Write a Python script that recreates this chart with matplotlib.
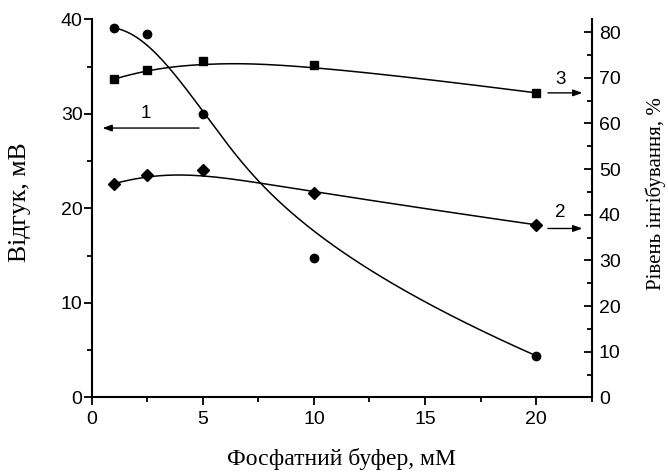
import numpy as np
import matplotlib
matplotlib.use("Agg")
import matplotlib.pyplot as plt
from matplotlib.ticker import MultipleLocator

# phosphate buffer concentration, mM
buffer_mm = [1, 2.5, 5, 10, 20]
# 1 - response, mV (left axis)
response_mv = [39.1, 38.5, 30.0, 14.8, 4.4]
# 2 and 3 - inhibition level, % (right axis)
inhib_2 = [46.8, 48.7, 49.7, 44.8, 37.8]
inhib_3 = [69.7, 71.8, 73.7, 72.9, 66.7]


def bspline(px, py, n=400, k=3):
    # clamped B-spline using the data points as control points
    px = np.asarray(px, float)
    py = np.asarray(py, float)
    m = len(px)
    knots = np.r_[[0.0] * (k + 1), np.arange(1, m - k), [float(m - k)] * (k + 1)]
    t = np.linspace(0, m - k, n)
    N = np.zeros((n, len(knots) - 1))
    for i in range(len(knots) - 1):
        N[:, i] = (knots[i] <= t) & (t < knots[i + 1])
    last = np.nonzero(knots[:-1] < knots[1:])[0][-1]
    N[t == knots[-1], last] = 1
    for d in range(1, k + 1):
        new = np.zeros((n, len(knots) - 1 - d))
        for i in range(len(knots) - 1 - d):
            a = knots[i + d] - knots[i]
            b = knots[i + d + 1] - knots[i + 1]
            if a > 0:
                new[:, i] += (t - knots[i]) / a * N[:, i]
            if b > 0:
                new[:, i] += (knots[i + d + 1] - t) / b * N[:, i + 1]
        N = new
    return N @ px, N @ py


fig = plt.figure(figsize=(6.68, 4.72), dpi=100)
ax = fig.add_axes([0.137, 0.158, 0.749, 0.801])
ax2 = ax.twinx()

lw = 1.1
ax.plot(*bspline(buffer_mm, response_mv), color="black", lw=lw)
ax.plot(buffer_mm, response_mv, "o", color="black", ms=6)

ax2.plot(*bspline(buffer_mm, inhib_3), color="black", lw=lw)
ax2.plot(buffer_mm, inhib_3, "s", color="black", ms=6)
ax2.plot(*bspline(buffer_mm, inhib_2), color="black", lw=lw)
ax2.plot(buffer_mm, inhib_2, "D", color="black", ms=5.8)

ax.set_xlim(0, 22.5)
ax.set_ylim(0, 40)
ax2.set_ylim(0, 82.8)

ax.xaxis.set_major_locator(MultipleLocator(5))
ax.xaxis.set_minor_locator(MultipleLocator(2.5))
ax.yaxis.set_major_locator(MultipleLocator(10))
ax.yaxis.set_minor_locator(MultipleLocator(5))
ax2.yaxis.set_major_locator(MultipleLocator(10))
ax2.yaxis.set_minor_locator(MultipleLocator(5))

for a in (ax, ax2):
    a.spines["top"].set_visible(False)
    for sp in a.spines.values():
        sp.set_linewidth(1.5)
ax.spines["right"].set_visible(False)
ax2.spines["left"].set_visible(False)
ax2.spines["bottom"].set_visible(False)

ax.tick_params(axis="x", which="major", direction="out", length=6, width=1.3, pad=4)
ax.tick_params(axis="y", which="major", direction="out", length=6, width=1.3, pad=0.5)
ax.tick_params(axis="both", which="minor", direction="out", length=3.3, width=1.3)
ax2.tick_params(axis="y", which="major", direction="in", length=6, width=1.3, pad=5)
ax2.tick_params(axis="y", which="minor", direction="in", length=3.3, width=1.3)
for lab in ax.get_xticklabels() + ax.get_yticklabels() + ax2.get_yticklabels():
    lab.set_fontfamily("Liberation Sans")
    lab.set_fontsize(14)

ax.set_xlabel("Фосфатний буфер, мМ", family="Liberation Serif", size=17, va="center")
ax.xaxis.set_label_coords(0.5, -0.163)
ax.set_ylabel("Відгук, мВ", family="Liberation Serif", size=18.5, va="center", ha="center")
ax.yaxis.set_label_coords(-0.1434, 0.516)
ax2.set_ylabel("Рівень інгібування, %", family="Liberation Serif", size=15, va="center", ha="center")
ax2.yaxis.set_label_coords(1.1286, 0.54)

arrow = dict(arrowstyle="-|>,head_length=0.55,head_width=0.2", color="black", lw=1.0)
num_font = dict(fontfamily="Liberation Sans", fontsize=13.5, ha="center", va="center")
ax.annotate("", xy=(0.37, 28.5), xytext=(4.96, 28.5), arrowprops=arrow)
ax.text(2.45, 30.0, "1", **num_font)
ax2.annotate("", xy=(22.2, 66.7), xytext=(20.4, 66.7), arrowprops=arrow)
ax2.text(21.1, 69.6, "3", **num_font)
ax2.annotate("", xy=(22.2, 37.0), xytext=(20.4, 37.0), arrowprops=arrow)
ax2.text(21.1, 40.4, "2", **num_font)

fig.savefig("out.png", dpi=100)
